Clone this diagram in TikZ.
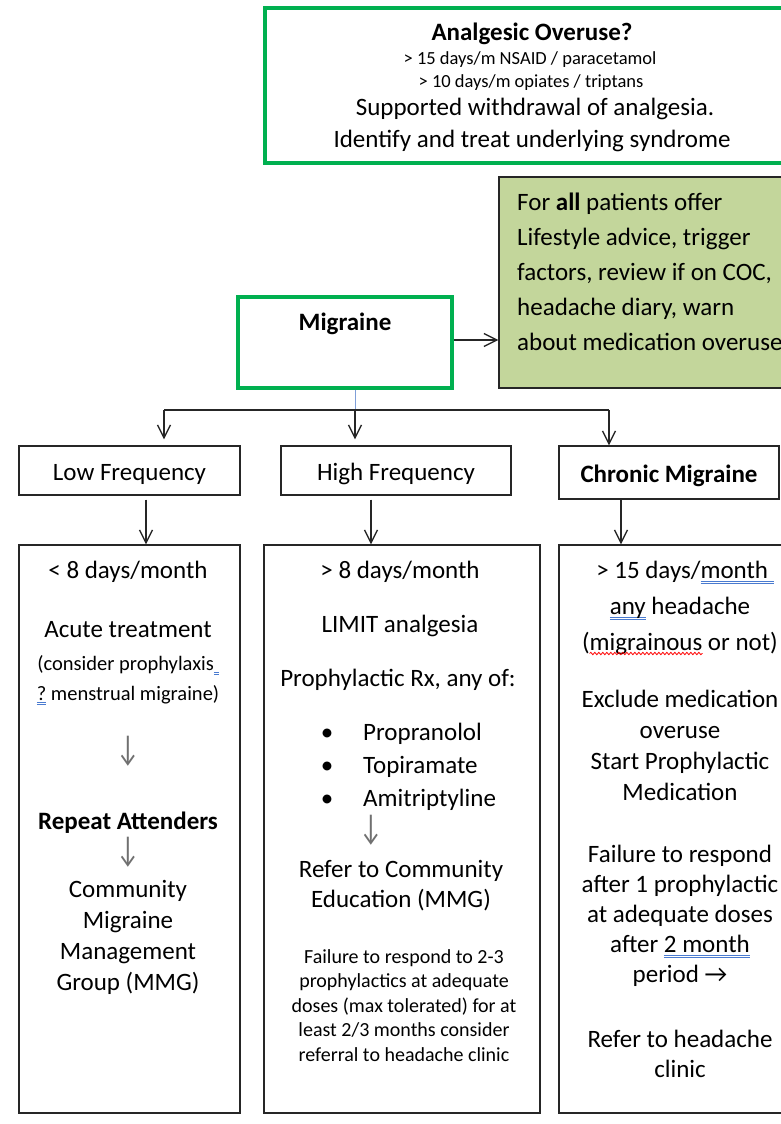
\documentclass[tikz,border=0pt]{standalone}
\usepackage{fontspec}
\setmainfont{Carlito}
\usetikzlibrary{arrows.meta,calc,decorations.pathmorphing}
\definecolor{mgreen}{HTML}{00B050}
\definecolor{advfill}{HTML}{C3D69B}
\definecolor{spblue}{HTML}{4A7BD0}
\definecolor{linkblue}{HTML}{7F9FD8}
\definecolor{arrgray}{HTML}{707070}
\newcommand\dblul[1]{\setbox0\hbox{#1}\leavevmode\rlap{\color{spblue}\rule[-0.15em]{\wd0}{0.045em}\kern-\wd0\rule[-0.25em]{\wd0}{0.045em}}\box0\relax}
\newcommand\tallarrow{\scalebox{0.85}[1.2]{↓}}
\tikzset{
  gbox/.style={draw=mgreen, line width=4pt, rectangle, inner sep=0pt},
  bbox/.style={draw=black!85, line width=1.3pt, rectangle, inner sep=0pt, fill=white},
  hbox/.style={bbox, font=\fontsize{25}{30}\selectfont, text height=19pt, text depth=0pt},
  tx/.style={anchor=base, inner sep=0pt, font=\fontsize{25}{30}\selectfont},
  txl/.style={anchor=base west, inner sep=0pt, font=\fontsize{25}{30}\selectfont},
  sm/.style={anchor=base, inner sep=0pt, font=\fontsize{20}{24}\selectfont},
  tiny/.style={anchor=base, inner sep=0pt, font=\fontsize{18.5}{22}\selectfont},
  darr/.style={anchor=center, inner sep=0pt, text=arrgray, font=\fontsize{30}{30}\selectfont},
  arr/.style={draw=black!85, line width=1.3pt, -{Straight Barb[length=13pt,width=13pt]}},
  conn/.style={draw=black!85, line width=1.3pt},
  bluelink/.style={draw=linkblue, line width=1pt},
  spwave/.style={draw=red, line width=0.8pt, decorate, decoration={snake, amplitude=1.2pt, segment length=4pt}}
}
\begin{document}
\begin{tikzpicture}[x=1pt,y=-1pt]
\useasboundingbox (0,0) rectangle (781,1124);
\clip (0,0) rectangle (781,1124);
\fill[white] (0,0) rectangle (781,1124);

% top box
\node[gbox, minimum width=530pt, minimum height=155pt] (over) at (530,85.5) {};
\node[tx, font=\fontsize{25}{30}\selectfont\bfseries] (ov1) at (532,41) {Analgesic Overuse?};
\node[tiny] (ov2) at (530,65) {> 15 days/m NSAID / paracetamol};
\node[tiny] (ov3) at (531,87) {> 10 days/m opiates / triptans};
\node[tx] (ov4) at (535,115) {Supported withdrawal of analgesia.};
\node[tx] (ov5) at (532,147) {Identify and treat underlying syndrome};

% advice box
\node[bbox, fill=advfill, minimum width=296pt, minimum height=211pt] (adv) at (647,282.5) {};
\node[txl] (ad1) at (517,210) {For \textbf{all} patients offer};
\node[txl] (ad2) at (517,245) {Lifestyle advice, trigger};
\node[txl] (ad3) at (517,280) {factors, review if on COC,};
\node[txl] (ad4) at (517,315) {headache diary, warn};
\node[txl] (ad5) at (517,350) {about medication overuse};

% migraine box
\node[gbox, fill=white, minimum width=214pt, minimum height=91pt] (mig) at (345,342.5) {};
\node[tx, font=\fontsize{25}{30}\selectfont\bfseries] (migt) at (345,330) {Migraine};

% headers
\node[hbox, minimum width=221pt, minimum height=49pt] (low) at (129.5,470.5) {Low Frequency};
\node[hbox, minimum width=230pt, minimum height=49pt] (high) at (396,470.5) {High Frequency};
\node[hbox, minimum width=220pt, minimum height=53pt, font=\fontsize{25}{30}\selectfont\bfseries] (chron) at (669,472.5) {Chronic Migraine};

% detail boxes
\node[bbox, minimum width=221pt, minimum height=568pt] (lowbox) at (129.5,829) {};
\node[bbox, minimum width=276pt, minimum height=568pt] (highbox) at (402,829) {};
\node[bbox, minimum width=241pt, minimum height=568pt] (chronbox) at (679.5,829) {};

% connectors
\coordinate (am) at (0,340);
\draw[arr] (mig.east |- am) -- (adv.west |- am);
\coordinate (jn) at (355,410);
\coordinate (jl) at (164,410);
\coordinate (jr) at (609,410);
\draw[bluelink] (jn |- mig.south) -- (jn);
\draw[conn] (jl) -- (jr);
\draw[arr, shorten >=6pt] (jl) -- (jl |- low.north);
\draw[arr, shorten >=6pt] (jn) -- (jn |- high.north);
\draw[arr] (jr) -- (jr |- chron.north);
\coordinate (al) at (146,0);
\coordinate (ah) at (371,0);
\coordinate (ac) at (621,0);
\draw[arr, shorten <=4pt] (al |- low.south) -- (al |- lowbox.north);
\draw[arr, shorten <=4pt] (ah |- high.south) -- (ah |- highbox.north);
\draw[arr] (ac |- chron.south) -- (ac |- chronbox.north);

% low frequency column
\node[tx] (l1) at (128,578) {< 8 days/month};
\node[tx] (l2) at (128,637) {Acute treatment};
\node[sm, font=\fontsize{20.5}{24}\selectfont] (l3) at (128,670) {(consider prophylaxis\dblul{\ }};
\node[sm, font=\fontsize{20.5}{24}\selectfont] (l4) at (128,700) {\dblul{?} menstrual migraine)};
\node[darr] (l5) at (128,751) {\tallarrow};
\node[tx, font=\fontsize{25}{30}\selectfont\bfseries] (l6) at (128,829) {Repeat Attenders};
\node[darr] (l7) at (128,852) {\tallarrow};
\node[tx] (l8) at (128,897) {Community};
\node[tx] (l9) at (128,928) {Migraine};
\node[tx] (l10) at (128,959) {Management};
\node[tx] (l11) at (128,990) {Group (MMG)};

% high frequency column
\node[tx] (h1) at (400,578) {> 8 days/month};
\node[tx] (h2) at (400,632) {LIMIT analgesia};
\node[tx] (h3) at (398,686) {Prophylactic Rx, any of:};
\node[tx] (hb1) at (327,740) {•};
\node[tx] (hb2) at (327,773) {•};
\node[tx] (hb3) at (327,806) {•};
\node[txl] (hp1) at (363,740) {Propranolol};
\node[txl] (hp2) at (363,773) {Topiramate};
\node[txl] (hp3) at (363,806) {Amitriptyline};
\node[darr] (h4) at (371,830) {\tallarrow};
\node[tx] (h5) at (401,877) {Refer to Community};
\node[tx] (h6) at (401,907) {Education (MMG)};
\node[sm] (h7) at (404,963) {Failure to respond to 2-3};
\node[sm] (h8) at (404,987.5) {prophylactics at adequate};
\node[sm] (h9) at (404,1012) {doses (max tolerated) for at};
\node[sm] (h10) at (404,1036.5) {least 2/3 months consider};
\node[sm] (h11) at (404,1061) {referral to headache clinic};

% chronic column
\node[tx] (c1) at (685,578) {> 15 days/\dblul{month\ }};
\node[tx] (c2) at (680,614) {\dblul{any} headache};
\node[tx] (c3) at (680,650) {(migrainous or not)};
\draw[spwave] ($(c3.base west)+(7.6,3.5)$) -- ($(c3.base west)+(120.6,3.5)$);
\node[tx] (c4) at (680,707) {Exclude medication};
\node[tx] (c5) at (680,738) {overuse};
\node[tx] (c6) at (680,769) {Start Prophylactic};
\node[tx] (c7) at (680,800) {Medication};
\node[tx] (c8) at (680,862) {Failure to respond};
\node[tx] (c9) at (680,892) {after 1 prophylactic};
\node[tx] (c10) at (680,922) {at adequate doses};
\node[tx] (c11) at (680,952) {after \dblul{2 month}};
\node[tx] (c12) at (680,982) {period →};
\node[tx] (c13) at (680,1047) {Refer to headache};
\node[tx] (c14) at (680,1077) {clinic};
\end{tikzpicture}
\end{document}
